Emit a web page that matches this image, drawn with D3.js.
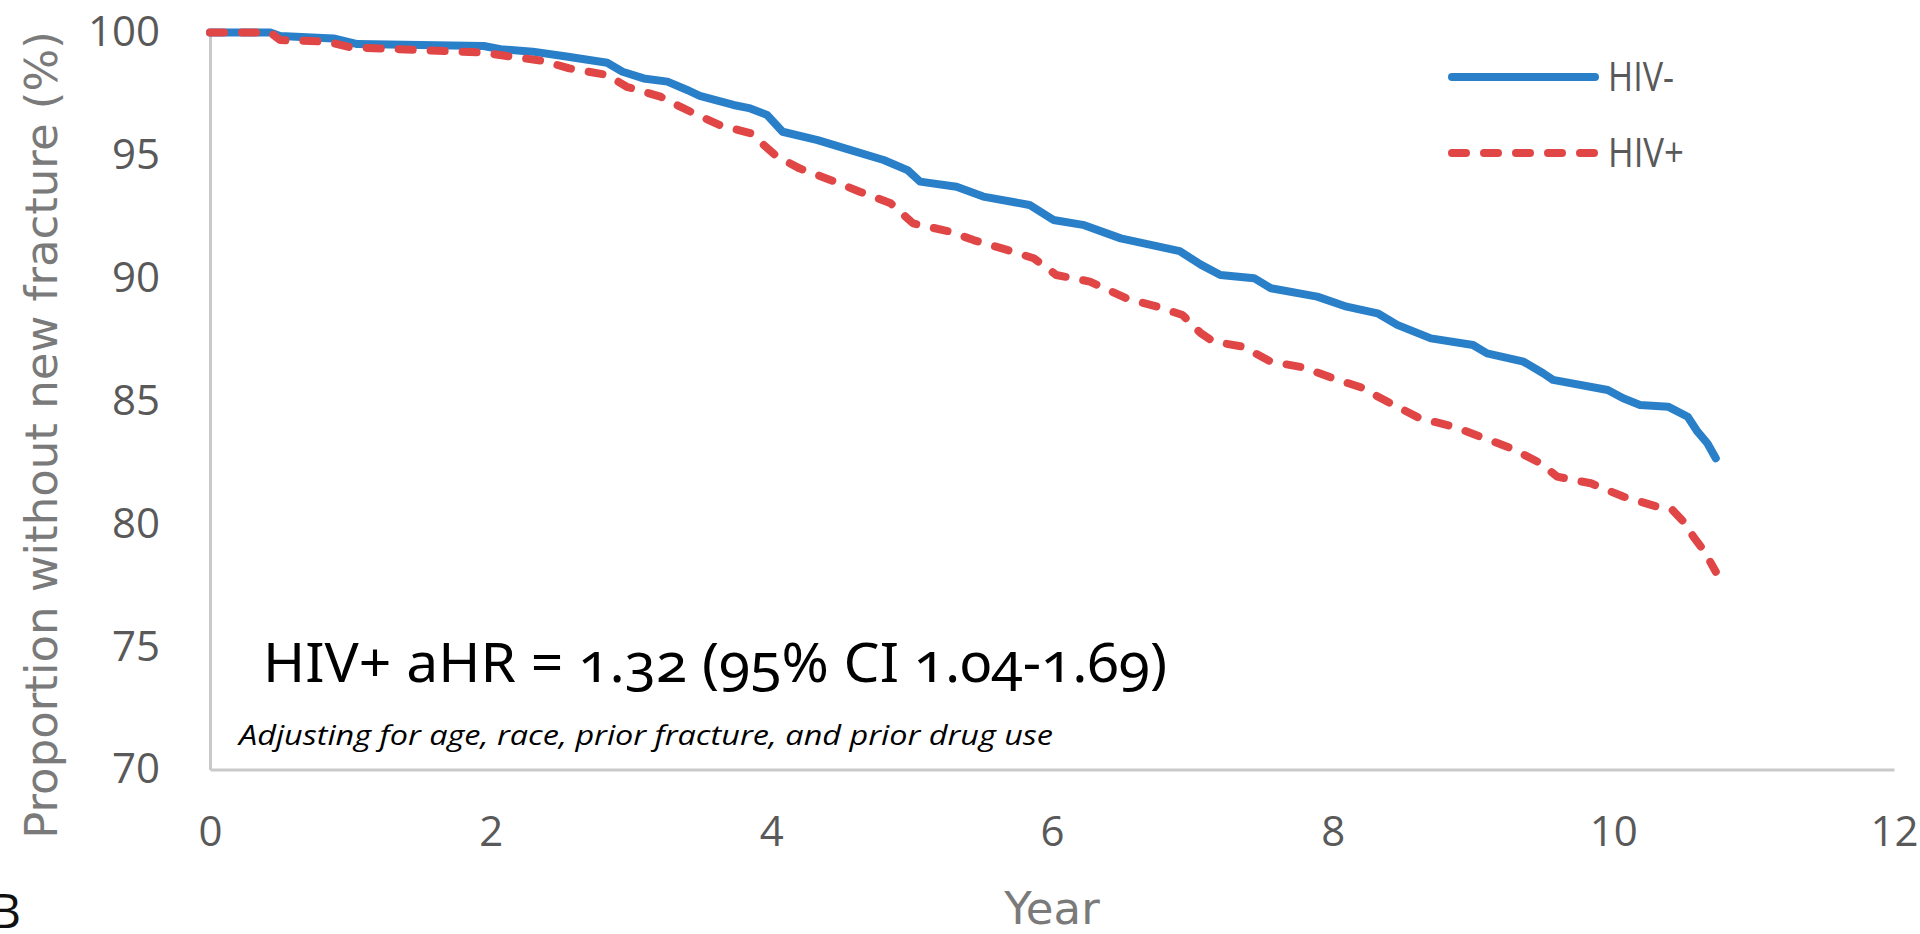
<!DOCTYPE html>
<html>
<head>
<meta charset="utf-8">
<script src="https://cdn.jsdelivr.net/npm/d3@7"></script>
<style>
  html, body { margin: 0; padding: 0; background: #fff; overflow: hidden; }
  .tick text { font-family: "Open Sans", sans-serif; font-size: 42px; fill: #595959; }
  .domain { stroke: #c9c9c9; stroke-width: 3; }
</style>
</head>
<body>
<div id="chart"></div>
<script>
var w = 1920,
    h = 934;

// HIV- (solid blue)
var yearsNeg = [0, 0.43, 0.5, 0.88, 1.05, 1.95, 2.07, 2.3, 2.54, 2.83, 2.94, 3.09, 3.26, 3.4, 3.49,
    3.73, 3.85, 3.97, 4.08, 4.33, 4.56, 4.8, 4.97, 5.06, 5.32, 5.51, 5.84, 6.01, 6.22, 6.49, 6.91,
    7.06, 7.2, 7.44, 7.56, 7.89, 8.1, 8.32, 8.46, 8.7, 9.0, 9.1, 9.36, 9.5, 9.57, 9.96, 10.07,
    10.19, 10.39, 10.53, 10.6, 10.67, 10.73];
var survNeg = [100, 100, 99.86, 99.76, 99.53, 99.45, 99.32, 99.22, 99.02, 98.77, 98.4, 98.13, 98.0, 97.66, 97.42,
    97.05, 96.91, 96.64, 95.96, 95.62, 95.22, 94.81, 94.4, 93.93, 93.72, 93.32, 92.98, 92.37, 92.17, 91.62, 91.1,
    90.55, 90.13, 90.0, 89.59, 89.25, 88.84, 88.57, 88.1, 87.55, 87.28, 86.94, 86.6, 86.13, 85.86, 85.45, 85.11,
    84.84, 84.77, 84.36, 83.75, 83.28, 82.67];

// HIV+ (dashed red)
var yearsPos = [0, 0.43, 0.5, 0.83, 1.0, 1.95, 2.18, 2.37, 2.56, 2.83, 2.97, 3.21, 3.35, 3.49, 3.63,
    3.85, 4.04, 4.2, 4.42, 4.63, 4.85, 5.01, 5.27, 5.44, 5.68, 5.87, 6.03, 6.27, 6.53, 6.75, 6.93,
    7.06, 7.15, 7.36, 7.56, 7.79, 8.0, 8.2, 8.41, 8.62, 8.86, 9.05, 9.27, 9.48, 9.6, 9.84, 10.07,
    10.31, 10.42, 10.5, 10.57, 10.65, 10.73];
var survPos = [100, 100, 99.69, 99.63, 99.4, 99.18, 98.99, 98.85, 98.54, 98.27, 97.79, 97.39, 96.98, 96.6, 96.24,
    95.9, 94.95, 94.47, 94.0, 93.52, 93.05, 92.23, 91.9, 91.55, 91.15, 90.81, 90.13, 89.86, 89.18, 88.84, 88.5,
    87.76, 87.42, 87.21, 86.6, 86.37, 85.93, 85.56, 84.91, 84.3, 83.96, 83.55, 83.08, 82.47, 81.92, 81.65, 81.11,
    80.7, 80.57, 80.09, 79.48, 78.87, 78.05];

var xTicks = [0, 2, 4, 6, 8, 10, 12];
var yTicks = [70, 75, 80, 85, 90, 95, 100];
var seriesNames = ["HIV-", "HIV+"];
var seriesColors = ["#2a7fc9", "#e04646"];

var svg = d3.select("#chart").append("svg").attr("width", w).attr("height", h);

var x = d3.scaleLinear().domain([0, 12]).range([210, 1894]);
var y = d3.scaleLinear().domain([70, 100]).range([769.5, 32.5]);

svg.append("g")
    .attr("transform", "translate(210,0)")
    .call(d3.axisLeft(y).tickValues(yTicks).tickSize(0).tickPadding(50));

svg.append("g")
    .attr("transform", "translate(0,769.5)")
    .call(d3.axisBottom(x).tickValues(xTicks).tickSize(0).tickPadding(47));

var line = d3.line()
    .x(function (d) { return x(d[0]); })
    .y(function (d) { return y(d[1]); });

var neg = d3.zip(yearsNeg, survNeg);
var pos = d3.zip(yearsPos, survPos);

svg.append("path")
    .datum(neg)
    .attr("d", line)
    .attr("fill", "none")
    .attr("stroke", seriesColors[0])
    .attr("stroke-width", 8)
    .attr("stroke-linejoin", "round")
    .attr("stroke-linecap", "round");

svg.append("path")
    .datum(pos)
    .attr("d", line)
    .attr("fill", "none")
    .attr("stroke", seriesColors[1])
    .attr("stroke-width", 8)
    .attr("stroke-dasharray", "14,18")
    .attr("stroke-linejoin", "round")
    .attr("stroke-linecap", "round");

// legend
var legend = svg.append("g");
seriesNames.forEach(function (name, i) {
    var ly = 77 + i * 76;
    legend.append("line")
        .attr("x1", 1452).attr("x2", 1595)
        .attr("y1", ly).attr("y2", ly)
        .attr("stroke", seriesColors[i])
        .attr("stroke-width", 8)
        .attr("stroke-linecap", "round")
        .attr("stroke-dasharray", i ? "14,18" : null);
    legend.append("text")
        .attr("x", 1608).attr("y", ly + 14)
        .attr("font-family", "Open Sans, sans-serif")
        .attr("font-size", 40)
        .attr("fill", "#595959")
        .attr("textLength", i ? 76 : 66)
        .attr("lengthAdjust", "spacingAndGlyphs")
        .text(name);
});

// axis titles
svg.append("text")
    .attr("transform", "translate(57,435) rotate(-90)")
    .attr("text-anchor", "middle")
    .attr("font-family", "DejaVu Sans, sans-serif")
    .attr("font-size", 45)
    .attr("fill", "#7a7a7a")
    .text("Proportion without new fracture (%)");

svg.append("text")
    .attr("x", 1052).attr("y", 924)
    .attr("text-anchor", "middle")
    .attr("font-family", "DejaVu Sans, sans-serif")
    .attr("font-size", 45)
    .attr("fill", "#7a7a7a")
    .text("Year");

svg.append("text")
    .attr("x", -10).attr("y", 928)
    .attr("font-family", "Open Sans, sans-serif")
    .attr("font-size", 48)
    .attr("fill", "#111")
    .text("B");

// annotations
svg.append("text")
    .attr("x", 263).attr("y", 682)
    .attr("font-family", "Noto Sans, sans-serif")
    .attr("font-size", 54)
    .attr("fill", "#000")
    .style("font-variant-numeric", "oldstyle-nums")
    .attr("textLength", 904)
    .attr("lengthAdjust", "spacingAndGlyphs")
    .text("HIV+ aHR = 1.32 (95% CI 1.04-1.69)");

svg.append("text")
    .attr("x", 239).attr("y", 745)
    .attr("font-family", "Open Sans, sans-serif")
    .attr("font-style", "italic")
    .attr("font-size", 28)
    .attr("fill", "#000")
    .attr("textLength", 814)
    .attr("lengthAdjust", "spacingAndGlyphs")
    .text("Adjusting for age, race, prior fracture, and prior drug use");
</script>
</body>
</html>
